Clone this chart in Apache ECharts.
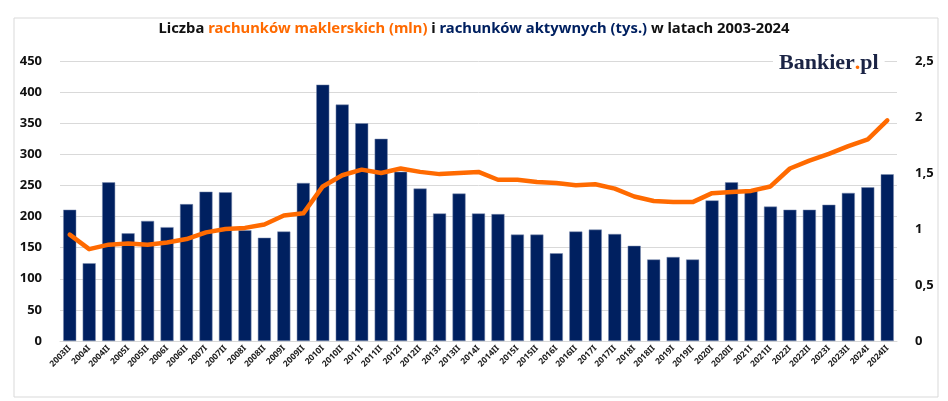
<!DOCTYPE html>
<html>
<head>
<meta charset="utf-8">
<script src="https://cdn.jsdelivr.net/npm/echarts@6/dist/echarts.min.js"></script>
<style>
  html, body { margin: 0; padding: 0; background: #fff; }
  #chart { width: 948px; height: 401px; }
</style>
</head>
<body>
<div id="chart"></div>
<script>
// półrocza
const periods = [
    '2003II',
    '2004I', '2004II', '2005I', '2005II', '2006I', '2006II', '2007I', '2007II',
    '2008I', '2008II', '2009I', '2009II', '2010I', '2010II', '2011I', '2011II',
    '2012I', '2012II', '2013I', '2013II', '2014I', '2014II', '2015I', '2015II',
    '2016I', '2016II', '2017I', '2017II', '2018I', '2018II', '2019I', '2019II',
    '2020I', '2020II', '2021I', '2021II', '2022I', '2022II', '2023I', '2023II',
    '2024I', '2024II'
]

// rachunki aktywne (tys.) - słupki
const activeAccounts = [
    211,
    125, 255, 173, 193, 183, 220, 240, 239,
    178, 166, 176, 254, 412, 380, 350, 325,
    272, 245, 205, 237, 205, 204, 171, 171,
    141, 176, 179, 172, 153, 131, 135, 131,
    226, 255, 243, 216, 211, 211, 219, 238,
    247, 268
]

// rachunki maklerskie (mln) - linia
const brokerAccounts = [
    0.95,
    0.82, 0.86, 0.87, 0.86, 0.88, 0.91, 0.97, 1.00,
    1.01, 1.04, 1.12, 1.14, 1.38, 1.48, 1.53, 1.50,
    1.54, 1.51, 1.49, 1.50, 1.51, 1.44, 1.44, 1.42,
    1.41, 1.39, 1.40, 1.36, 1.29, 1.25, 1.24, 1.24,
    1.32, 1.33, 1.34, 1.38, 1.54, 1.61, 1.67, 1.74,
    1.80, 1.97
]

const NAVY = '#002060'
const ORANGE = '#ff6a00'
const FONT = '"Noto Sans", sans-serif'
const TITLE_SIZE = 14.8

const chart = echarts.init(document.getElementById('chart'))

chart.setOption({
    animation: false,
    backgroundColor: '#fff',
    title: {
        left: 'center',
        top: 16,
        text: '{b|Liczba }{o|rachunków maklerskich (mln)}{b| i }{n|rachunków aktywnych (tys.)}{b| w latach 2003-2024}',
        textStyle: {
            rich: {
                b: { color: '#111', fontSize: TITLE_SIZE, fontWeight: 'bold', fontFamily: FONT },
                o: { color: ORANGE, fontSize: TITLE_SIZE, fontWeight: 'bold', fontFamily: FONT },
                n: { color: NAVY, fontSize: TITLE_SIZE, fontWeight: 'bold', fontFamily: FONT }
            }
        }
    },
    grid: { left: 60, right: 51, top: 61, bottom: 60 },
    xAxis: {
        type: 'category',
        data: periods,
        axisTick: { show: false },
        axisLine: { lineStyle: { color: '#d9d9d9' } },
        axisLabel: {
            interval: 0,
            rotate: 45,
            fontSize: 8.5,
            fontWeight: 'bold',
            color: '#222',
            fontFamily: FONT,
            margin: 6
        }
    },
    yAxis: [
        {
            type: 'value',
            min: 0,
            max: 450,
            interval: 50,
            axisLabel: { fontSize: 13, fontWeight: 'bold', color: '#111', fontFamily: FONT, margin: 18 },
            splitLine: { lineStyle: { color: '#d9d9d9' } }
        },
        {
            type: 'value',
            min: 0,
            max: 2.5,
            interval: 0.5,
            position: 'right',
            splitLine: { show: false },
            axisLabel: {
                fontSize: 13,
                fontWeight: 'bold',
                color: '#111',
                fontFamily: FONT,
                margin: 18,
                formatter: (v) => String(v).replace('.', ',')
            }
        }
    ],
    series: [
        {
            name: 'Rachunki aktywne (tys.)',
            type: 'bar',
            data: activeAccounts,
            barCategoryGap: '33%',
            itemStyle: { color: NAVY, borderColor: '#7f8fb0', borderWidth: 0.5 }
        },
        {
            name: 'Rachunki maklerskie (mln)',
            type: 'line',
            yAxisIndex: 1,
            data: brokerAccounts,
            symbol: 'none',
            lineStyle: { color: ORANGE, width: 4.5, cap: 'round', join: 'round' },
            z: 5
        }
    ],
    graphic: [
        {
            type: 'rect',
            shape: { x: 14, y: 18, width: 924, height: 379 },
            style: { fill: 'none', stroke: '#d9d9d9', lineWidth: 1 },
            silent: true,
            z: -1
        },
        {
            type: 'text',
            left: 773,
            top: 50,
            z: 10,
            style: {
                text: '{n|Bankier}{d|.}{n|pl}',
                backgroundColor: '#fff',
                padding: [2, 6, 2, 6],
                rich: {
                    n: { fontFamily: '"Liberation Serif", serif', fontSize: 22, fontWeight: 'bold', fill: '#1b2445' },
                    d: { fontFamily: '"Liberation Serif", serif', fontSize: 22, fontWeight: 'bold', fill: ORANGE }
                }
            }
        }
    ]
})
</script>
</body>
</html>
